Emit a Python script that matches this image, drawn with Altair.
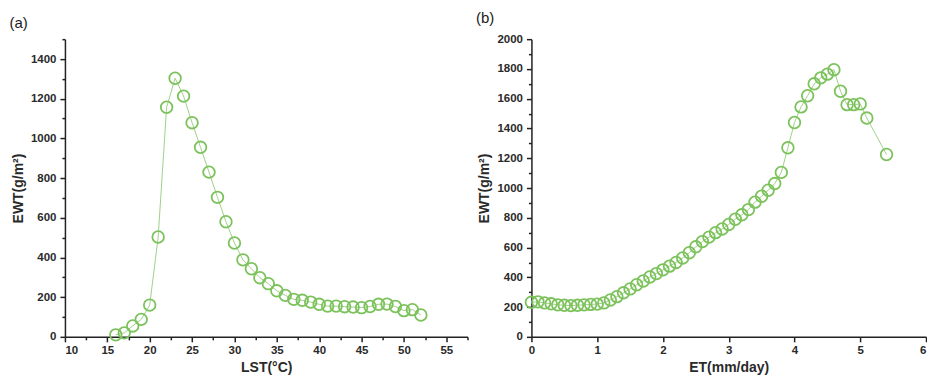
import altair as alt
import pandas as pd

# Panel (a): EWT vs LST
lst = list(range(16, 53))
ewt_a = [10, 20, 55, 88, 160, 503, 1157, 1303, 1213, 1079, 955, 830, 703, 580, 473,
         388, 343, 298, 268, 232, 209, 189, 184, 175, 164, 155, 155, 152, 150, 147,
         153, 164, 165, 153, 132, 137, 110]

# Panel (b): EWT vs ET
et = [0.0, 0.1, 0.2, 0.3, 0.4, 0.5, 0.6, 0.7, 0.8, 0.9, 1.0, 1.1, 1.2, 1.3, 1.4,
      1.5, 1.6, 1.7, 1.8, 1.9, 2.0, 2.1, 2.2, 2.3, 2.4, 2.5, 2.6, 2.7, 2.8, 2.9,
      3.0, 3.1, 3.2, 3.3, 3.4, 3.5, 3.6, 3.7, 3.8, 3.9, 4.0, 4.1, 4.2, 4.3, 4.4,
      4.5, 4.6, 4.7, 4.8, 4.9, 5.0, 5.1, 5.4]
ewt_b = [232, 235, 228, 222, 215, 212, 210, 212, 215, 218, 220, 228, 248, 270, 296,
         322, 350, 375, 402, 425, 450, 475, 500, 530, 565, 605, 640, 670, 700, 725,
         755, 790, 820, 855, 905, 945, 985, 1030, 1105, 1270, 1440, 1545, 1620, 1700, 1740,
         1765, 1795, 1650, 1560, 1560, 1565, 1470, 1225]

x_ticks_a = [10 + 2.5 * i for i in range(20)]
y_ticks_a = [100 * i for i in range(16)]
x_ticks_b = [0.5 * i for i in range(13)]
y_ticks_b = [100 * i for i in range(21)]

GREEN = "#7cc25c"
LINE_GREEN = "#9fd187"
FONT = "Liberation Sans"
TEXT = "#2a2a2a"


def axis(values, major, title, label_pad, title_pad, last=None):
    test = f"abs(datum.value / {major} - round(datum.value / {major})) < 0.001"
    extra = {}
    if last is not None:
        extra["labelAlign"] = {"condition": {"test": f"datum.value >= {last}", "value": "right"},
                               "value": "center"}
    return alt.Axis(
        values=values,
        title=title,
        grid=False,
        format="d",
        labelExpr=f"{test} ? datum.label : ''",
        tickSize={"condition": {"test": test, "value": 5}, "value": 3},
        labelFont=FONT, labelFontSize=11.5, labelColor=TEXT, labelFontWeight="bold",
        titleFont=FONT, titleFontSize=14, titleFontWeight="bold", titleColor=TEXT,
        domainColor="#222222", domainWidth=1.5, tickColor="#222222", tickWidth=1.5,
        labelPadding=label_pad, titlePadding=title_pad,
        **extra,
    )


def panel(xs, ys, xdom, xvals, xmajor, xtitle, ydom, yvals, label, w, last=None):
    df = pd.DataFrame({"x": xs, "y": ys})
    xenc = alt.X("x:Q", scale=alt.Scale(domain=xdom, nice=False, zero=False),
                 axis=axis(xvals, xmajor, xtitle, 3, 4, last))
    yenc = alt.Y("y:Q", scale=alt.Scale(domain=ydom, nice=False),
                 axis=axis(yvals, 200, "EWT(g/m²)", 4, 5))
    line = alt.Chart(df).mark_line(color=LINE_GREEN, strokeWidth=1).encode(x=xenc, y=yenc)
    pts = alt.Chart(df).mark_point(shape="circle", filled=False, size=135,
                                   color=GREEN, strokeWidth=1.8, opacity=1).encode(x=xenc, y=yenc)
    return alt.layer(line, pts).properties(
        width=w, height=298,
        title=alt.TitleParams(label, anchor="start", frame="bounds", fontSize=15,
                              fontWeight="normal", font=FONT, color="#1a1a1a",
                              offset=7, dx=-2),
    )


a = panel(lst, ewt_a, [10, 57.5], x_ticks_a, 5, "LST(°C)", [0, 1500], y_ticks_a, "(a)", 403)
b = panel(et, ewt_b, [0, 6], x_ticks_b, 1, "ET(mm/day)", [0, 2000], y_ticks_b, "(b)", 395, last=6)

chart = alt.hconcat(a, b, spacing=7).configure_view(stroke=None).properties(
    padding={"left": 1, "top": 3, "right": 0, "bottom": 0}
)

chart.save("out.html", embed_options={"renderer": "svg", "actions": False})
